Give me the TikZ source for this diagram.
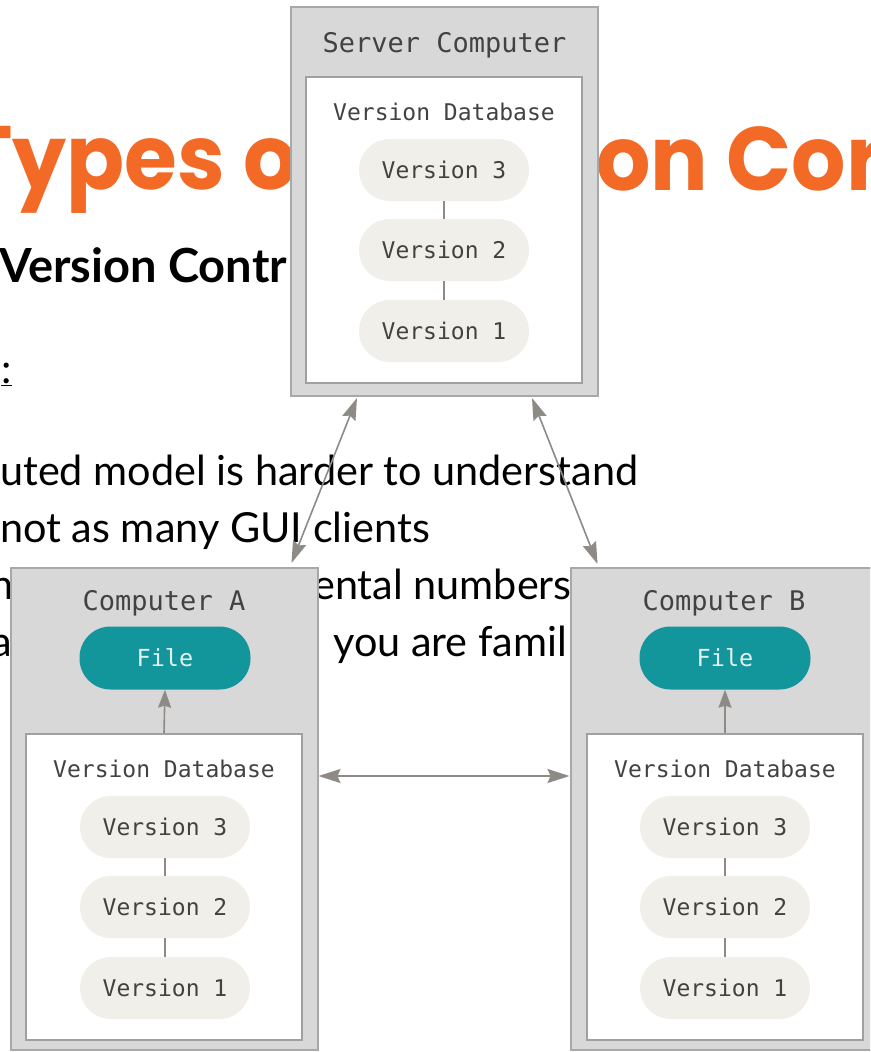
\documentclass[tikz,border=0pt]{standalone}
\usepackage{fontspec}
\setmainfont{Lato}
\newfontfamily\titlefont[FakeStretch=0.95]{Poppins}
\newfontfamily\monofont{DejaVu Sans Mono}
\usetikzlibrary{arrows.meta,calc}

\definecolor{titleorange}{RGB}{243,106,38}
\definecolor{boxgray}{RGB}{216,216,216}
\definecolor{boxedge}{RGB}{168,168,168}
\definecolor{dbedge}{RGB}{160,160,160}
\definecolor{pillfill}{RGB}{240,239,233}
\definecolor{filefill}{RGB}{18,149,155}
\definecolor{filetext}{RGB}{226,240,240}
\definecolor{labeltext}{RGB}{66,66,66}
\definecolor{arrowgray}{RGB}{142,138,134}

\begin{document}
\begin{tikzpicture}[x=1pt,y=-1pt,
  slidetitle/.style={font=\titlefont\bfseries\fontsize{90}{96}\selectfont, text=titleorange, inner sep=0pt, anchor=base west},
  slidehead/.style={font=\bfseries\fontsize{47}{52}\selectfont, text=black, inner sep=0pt, anchor=base west},
  slidebody/.style={font=\fontsize{41.4}{46}\selectfont, text=black, inner sep=0pt, anchor=base west},
  computer/.style={draw=boxedge, fill=boxgray, line width=2pt, minimum width=307pt, inner sep=0pt},
  database/.style={draw=dbedge, fill=white, line width=2pt, minimum width=276pt, minimum height=306pt, inner sep=0pt},
  header/.style={font=\monofont\fontsize{27}{30}\selectfont, text=labeltext, inner sep=0pt, anchor=base},
  dblabel/.style={font=\monofont\fontsize{23}{26}\selectfont, text=labeltext, inner sep=0pt, anchor=base},
  version/.style={fill=pillfill, rounded corners=31pt, minimum width=170pt, minimum height=62pt, inner sep=0pt,
    font=\monofont\fontsize{23}{26}\selectfont, text=labeltext},
  filepill/.style={fill=filefill, rounded corners=31pt, minimum width=171pt, minimum height=63pt, inner sep=0pt,
    font=\monofont\fontsize{23.5}{26}\selectfont, text=filetext},
  link/.style={draw=arrowgray, line width=1.3pt},
  sync/.style={draw=arrowgray, line width=1.6pt,
    {Stealth[length=22pt,width=14pt,inset=3pt]}-{Stealth[length=22pt,width=14pt,inset=3pt]}},
  checkout/.style={draw=arrowgray, line width=1.6pt, -{Stealth[length=18pt,width=13pt,inset=2pt]}}
]
\useasboundingbox (0,0) rectangle (870,1052);
\clip (0,0) rectangle (870,1052);
\fill[white] (0,0) rectangle (870,1052);

% slide text underneath the figure
\node[slidetitle] (titleL) at (-38,189) {Types o};
\node[slidetitle] (titleR) at (596,190) {on Cor};
\node[slidehead] (subhead) at (-1,282) {Version Contr};
\node[slidebody, anchor=base east] (colon) at (12,383) {\underline{:}};
\node[slidebody] (line1) at (0,485) {uted model is harder to understand};
\node[slidebody] (line2) at (0,542) {not as many GUI clients};
\node[slidebody, anchor=base east] (line3a) at (14,599) {n};
\node[slidebody] (line3b) at (313,599) {ental numbers};
\node[slidebody, anchor=base east] (line4a) at (12,656) {a};
\node[slidebody] (line4b) at (333,656) {you are famil};

% server computer
\node[computer, minimum height=389pt] (server) at (444.5,201.5) {};
\node[header] (serverlbl) at (444.5,52) {Server Computer};
\node[database] (serverdb) at (444,230) {};
\node[dblabel] (serverdblbl) at (444,120) {Version Database};
\node[version] (sv3) at (444,170) {Version 3};
\node[version] (sv2) at (444,250) {Version 2};
\node[version] (sv1) at (444,331) {Version 1};
\draw[link] (sv3.south) -- (sv2.north);
\draw[link] (sv2.south) -- (sv1.north);

% computer A
\node[computer, minimum height=482pt] (compA) at (164,809) {};
\node[header] (compAlbl) at (164,610) {Computer A};
\node[filepill] (fileA) at (165,658) {File};
\node[database] (dbA) at (164,887) {};
\node[dblabel] (dbAlbl) at (164,777) {Version Database};
\node[version] (av3) at (165,827) {Version 3};
\node[version] (av2) at (165,907) {Version 2};
\node[version] (av1) at (165,988) {Version 1};
\draw[link] (av3.south) -- (av2.north);
\draw[link] (av2.south) -- (av1.north);
\draw[checkout] (dbA.north) -- (fileA.south);

% computer B
\node[computer, minimum height=482pt] (compB) at (724,809) {};
\node[header] (compBlbl) at (724,610) {Computer B};
\node[filepill] (fileB) at (725,658) {File};
\node[database] (dbB) at (725,887) {};
\node[dblabel] (dbBlbl) at (725,777) {Version Database};
\node[version] (bv3) at (725,827) {Version 3};
\node[version] (bv2) at (725,907) {Version 2};
\node[version] (bv1) at (725,988) {Version 1};
\draw[link] (bv3.south) -- (bv2.north);
\draw[link] (bv2.south) -- (bv1.north);
\draw[checkout] (dbB.north) -- (fileB.south);

% synchronisation arrows
\coordinate (serverL) at ($(server.south west)+(67,1)$);
\coordinate (serverR) at ($(server.south east)+(-67,1)$);
\coordinate (compAtop) at ($(compA.north east)+(-27,-4)$);
\coordinate (compBtop) at ($(compB.north west)+(28,-3)$);
\coordinate (compAside) at ($(compA.north east)+(0,209)$);
\coordinate (compBside) at ($(compB.north west)+(0,209)$);
\draw[sync] (serverL) -- (compAtop);
\draw[sync] (serverR) -- (compBtop);
\draw[sync] (compAside) -- (compBside);
\end{tikzpicture}
\end{document}
